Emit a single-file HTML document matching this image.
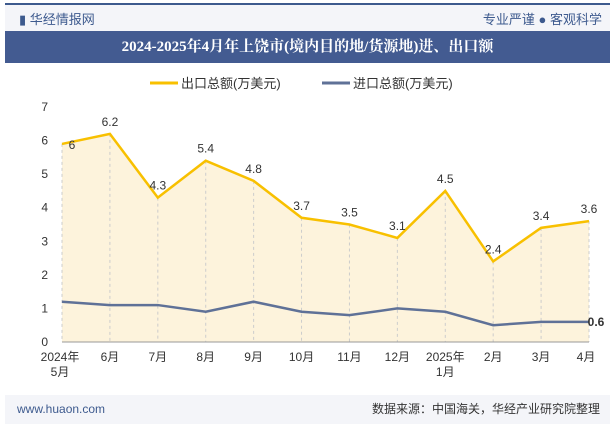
<!DOCTYPE html>
<html><head><meta charset="utf-8"><style>
body{margin:0;width:615px;height:427px;overflow:hidden;background:#fff;font-family:"Liberation Sans","Noto Sans CJK SC",sans-serif;position:relative}
.hdr{position:absolute;left:5px;top:3px;width:605px;height:28px;background:#f4f5f9;border-top:2px solid #3d5a8e}
.ttl{position:absolute;left:5px;top:31px;width:605px;height:32px;background:#435b91;color:#fff;font-weight:bold;font-size:15px;text-align:center;line-height:32px;font-family:"Liberation Serif","Noto Serif CJK SC",serif}
.ftr{position:absolute;left:5px;top:395px;width:605px;height:29px;background:#f4f5f9;font-size:12px;line-height:29px}
</style></head><body>
<div class="hdr">
<span style="position:absolute;left:14px;top:4px;font-size:13px;color:#3d5a8e">▮ 华经情报网</span>
<span style="position:absolute;right:8px;top:4px;font-size:13px;color:#3d5a8e">专业严谨 ● 客观科学</span>
</div>
<div class="ttl">2024-2025年4月年上饶市(境内目的地/货源地)进、出口额</div>
<div class="ftr">
<span style="position:absolute;left:12px;color:#3d5a8e">www.huaon.com</span>
<span style="position:absolute;right:10px;color:#333">数据来源：中国海关，华经产业研究院整理</span>
</div>
<svg id="c" width="615" height="427" style="position:absolute;left:0;top:0"></svg>
<script>
const categories=["2024年|5月","6月","7月","8月","9月","10月","11月","12月","2025年|1月","2月","3月","4月"];
const exportVals=[5.9,6.2,4.3,5.4,4.8,3.7,3.5,3.1,4.5,2.4,3.4,3.6];
const exportLabels=["6","6.2","4.3","5.4","4.8","3.7","3.5","3.1","4.5","2.4","3.4","3.6"];
const importVals=[1.2,1.1,1.1,0.9,1.2,0.9,0.8,1.0,0.9,0.5,0.6,0.6];
const yTicks=[0,1,2,3,4,5,6,7];
const svg=document.getElementById('c');const NS='http://www.w3.org/2000/svg';
const x0=62,x1=589,y0=342,y1=107;
const xs=i=>x0+i*(x1-x0)/(categories.length-1);
const ys=v=>y0-v*(y0-y1)/7;
function mk(t,a,p){const e=document.createElementNS(NS,t);for(const k in a)e.setAttribute(k,a[k]);(p||svg).appendChild(e);return e;}
// legend
let l1=mk('line',{x1:150,y1:83,x2:178,y2:83,stroke:'#f8c000','stroke-width':3});
let t1=mk('text',{x:181,y:88,'font-size':13,fill:'#333'});t1.textContent='出口总额(万美元)';
let l2=mk('line',{x1:322,y1:83,x2:350,y2:83,stroke:'#5f7197','stroke-width':3});
let t2=mk('text',{x:353,y:88,'font-size':13,fill:'#333'});t2.textContent='进口总额(万美元)';
// y ticks
yTicks.forEach(v=>{let t=mk('text',{x:48,y:ys(v)+4,'font-size':12,fill:'#333','text-anchor':'end'});t.textContent=v;});
// area
let d='M'+xs(0)+','+ys(0);exportVals.forEach((v,i)=>d+=' L'+xs(i)+','+ys(v));d+=' L'+xs(exportVals.length-1)+','+ys(0)+'Z';
let ar=mk('path',{d:d,fill:'#fdf3dc'});
exportVals.forEach((v,i)=>{let g=mk('line',{x1:xs(i),x2:xs(i),y1:ys(v),y2:y0,stroke:'#ccc','stroke-dasharray':'3,3'});});
let ax=mk('line',{x1:x0,x2:x1,y1:y0,y2:y0,stroke:'#999'});
categories.forEach((c,i)=>{const p=c.split('|');p.forEach((s,j)=>{let t=mk('text',{x:xs(i)+(i==0?-2:0)-(i==categories.length-1?3:0),y:361+j*15,'font-size':12,fill:'#333','text-anchor':'middle'});t.textContent=s;});});
let pe=mk('polyline',{points:exportVals.map((v,i)=>xs(i)+','+ys(v)).join(' '),fill:'none',stroke:'#f8c000','stroke-width':2.5});
let pi=mk('polyline',{points:importVals.map((v,i)=>xs(i)+','+ys(v)).join(' '),fill:'none',stroke:'#5f7197','stroke-width':2.5});
exportVals.forEach((v,i)=>{let t=mk('text',{x:xs(i)+(i==0?10:0),y:ys(v)-(i==0?-5:8),'font-size':12,fill:'#333','text-anchor':'middle'});t.textContent=exportLabels[i];});
const li=importVals.length-1;
let tl=mk('text',{x:xs(li)+7,y:ys(importVals[li])+4,'font-size':12,'font-weight':'bold',fill:'#333','text-anchor':'middle'});tl.textContent=importVals[li];
</script>
</body></html>
